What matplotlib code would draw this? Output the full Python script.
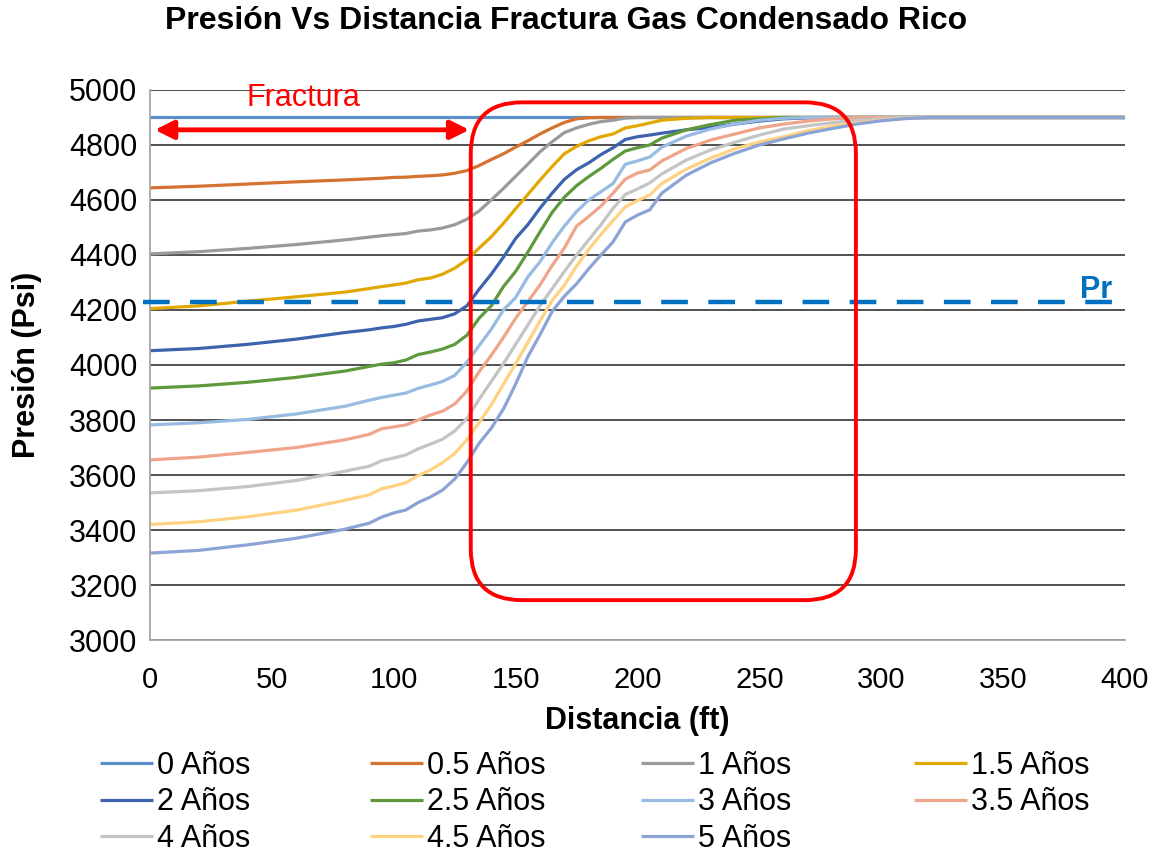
import numpy as np
import matplotlib.pyplot as plt
from matplotlib.patches import FancyBboxPatch

plt.rcParams['font.family'] = ['Liberation Sans', 'DejaVu Sans']

# distance (ft)
x = [0, 20, 40, 60, 80, 90, 95, 100, 105, 110, 115, 120, 125, 130, 135, 140, 145,
     150, 155, 160, 165, 170, 175, 180, 185, 190, 195, 200, 205, 210, 220, 230,
     240, 250, 260, 270, 280, 290, 300, 310, 320, 400]

# pressure (psi) per time
p_0 = [4900] * len(x)
p_05 = [4644, 4650, 4658, 4666, 4673, 4677, 4679, 4682, 4683, 4686, 4688, 4691, 4697, 4707,
        4725, 4747, 4768, 4792, 4815, 4840, 4862, 4882, 4895, 4899, 4900, 4900, 4900, 4900,
        4900, 4900, 4900, 4900, 4900, 4900, 4900, 4900, 4900, 4900, 4900, 4900, 4900, 4900]
p_1 = [4404, 4412, 4424, 4438, 4455, 4465, 4470, 4474, 4478, 4487, 4491, 4498, 4510, 4530,
       4560, 4600, 4642, 4686, 4730, 4775, 4812, 4845, 4862, 4875, 4885, 4890, 4898, 4900,
       4900, 4900, 4900, 4900, 4900, 4900, 4900, 4900, 4900, 4900, 4900, 4900, 4900, 4900]
p_15 = [4205, 4215, 4232, 4248, 4265, 4278, 4285, 4291, 4298, 4310, 4316, 4330, 4352, 4382,
        4425, 4466, 4515, 4568, 4620, 4672, 4722, 4768, 4795, 4815, 4830, 4840, 4862, 4870,
        4880, 4890, 4897, 4900, 4900, 4900, 4900, 4900, 4900, 4900, 4900, 4900, 4900, 4900]
p_2 = [4052, 4060, 4075, 4094, 4118, 4128, 4135, 4140, 4148, 4160, 4166, 4172, 4186, 4215,
       4275, 4330, 4392, 4460, 4510, 4570, 4625, 4675, 4710, 4735, 4765, 4790, 4820, 4830,
       4836, 4843, 4855, 4864, 4876, 4887, 4895, 4899, 4900, 4900, 4900, 4900, 4900, 4900]
p_25 = [3916, 3924, 3937, 3955, 3978, 3995, 4003, 4008, 4018, 4038, 4047, 4058, 4075, 4108,
        4170, 4215, 4285, 4340, 4410, 4484, 4555, 4610, 4652, 4685, 4715, 4748, 4778, 4790,
        4800, 4825, 4855, 4874, 4890, 4895, 4900, 4900, 4900, 4900, 4900, 4900, 4900, 4900]
p_3 = [3782, 3790, 3802, 3822, 3850, 3872, 3882, 3890, 3898, 3915, 3927, 3940, 3962, 4010,
       4070, 4130, 4200, 4245, 4320, 4375, 4445, 4505, 4558, 4600, 4630, 4660, 4730, 4742,
       4756, 4792, 4832, 4858, 4876, 4890, 4897, 4900, 4900, 4900, 4900, 4900, 4900, 4900]
p_35 = [3655, 3665, 3682, 3700, 3728, 3748, 3768, 3775, 3782, 3800, 3818, 3832, 3858, 3905,
        3975, 4035, 4100, 4170, 4230, 4291, 4362, 4425, 4505, 4540, 4578, 4625, 4676, 4698,
        4709, 4742, 4787, 4818, 4840, 4862, 4876, 4887, 4895, 4899, 4900, 4900, 4900, 4900]
p_4 = [3535, 3543, 3558, 3580, 3614, 3632, 3652, 3662, 3673, 3695, 3712, 3730, 3760, 3805,
       3875, 3940, 4005, 4075, 4145, 4215, 4278, 4340, 4400, 4455, 4510, 4570, 4620, 4640,
       4662, 4695, 4745, 4782, 4810, 4836, 4858, 4870, 4881, 4890, 4896, 4900, 4900, 4900]
p_45 = [3420, 3430, 3448, 3472, 3508, 3528, 3550, 3560, 3572, 3598, 3618, 3645, 3678, 3728,
        3790, 3855, 3930, 4005, 4082, 4160, 4235, 4290, 4360, 4420, 4475, 4525, 4575, 4598,
        4618, 4660, 4712, 4752, 4786, 4811, 4830, 4852, 4868, 4880, 4890, 4897, 4900, 4900]
p_5 = [3316, 3326, 3346, 3370, 3403, 3425, 3447, 3462, 3473, 3500, 3520, 3545, 3585, 3645,
       3715, 3770, 3840, 3930, 4030, 4110, 4195, 4250, 4295, 4350, 4400, 4448, 4520, 4545,
       4564, 4625, 4690, 4735, 4770, 4800, 4822, 4843, 4860, 4876, 4888, 4896, 4900, 4900]

series = [p_0, p_05, p_1, p_15, p_2, p_25, p_3, p_35, p_4, p_45, p_5]
labels = ['0 Años', '0.5 Años', '1 Años', '1.5 Años', '2 Años', '2.5 Años',
          '3 Años', '3.5 Años', '4 Años', '4.5 Años', '5 Años']
colors = ['#5B8FC8', '#D5722F', '#9A9A9A', '#E0A800', '#3D63AE', '#5E9A3C',
          '#97BBE2', '#EEA58A', '#C4C4C4', '#FFD282', '#8CA3D6']

pr = 4230
fractura = [2, 131]
box = [131.6, 3145, 289.6, 4955]  # x0, y0, x1, y1

fig = plt.figure(figsize=(11.68, 8.52), dpi=100)
ax = fig.add_axes([0.1284, 0.2488, 0.9632 - 0.1284, 0.8944 - 0.2488])

handles = []
for y, lab, c in zip(series, labels, colors):
    h, = ax.plot(x, y, color=c, lw=2.3, label=lab, solid_capstyle='butt')
    handles.append(h)

ax.set_xlim(0, 400)
ax.set_ylim(3000, 5000)
ax.set_xticks(np.arange(0, 401, 50))
ax.set_yticks(np.arange(3000, 5001, 200))
ax.yaxis.grid(True, color='#222222', lw=1.1)
ax.set_axisbelow(True)
for s in ['top', 'right']:
    ax.spines[s].set_visible(False)
for s in ['left', 'bottom']:
    ax.spines[s].set_color('#A6A6A6')
    ax.spines[s].set_linewidth(1.3)
ax.tick_params(axis='x', length=0, labelsize=21, pad=19)
ax.tick_params(axis='y', length=0, labelsize=22, pad=9)

ax.set_xlabel('Distancia (ft)', fontsize=22, fontweight='bold', labelpad=8)
ax.set_ylabel('Presión (Psi)', fontsize=22, fontweight='bold')
ax.yaxis.set_label_coords(-108 / 975, 0.5)
fig.text(0.485, 0.975, 'Presión Vs Distancia Fractura Gas Condensado Rico',
         ha='center', va='center', fontsize=23, fontweight='bold')

# Pr dashed line
ax.plot([-3, 400], [pr, pr], color='#0070C0', lw=3.2, dashes=(6, 4.6),
        clip_on=False, zorder=5)
ax.text(388, 4272, 'Pr', color='#0070C0', fontsize=22, fontweight='bold',
        ha='center', va='center', zorder=6)

# fracture arrow
ax.annotate('', xy=(fractura[0], 4855), xytext=(fractura[1], 4855),
            arrowprops=dict(arrowstyle='<|-|>', color='red', lw=3.5,
                            mutation_scale=28, shrinkA=0, shrinkB=0), zorder=6)
ax.text(63, 4972, 'Fractura', color='red', fontsize=22, ha='center', va='center')

# rounded highlight box
aspect = (975 / 400) / (550 / 2000)
rb = FancyBboxPatch((box[0], box[1]), box[2] - box[0], box[3] - box[1],
                    boxstyle='round,pad=0,rounding_size=21', mutation_aspect=aspect,
                    fill=False, ec='red', lw=2.8, zorder=7, clip_on=False)
ax.add_patch(rb)

# legend: one legend per column, entries in row order
col_x = [100 / 1168, 370 / 1168, 641 / 1168, 914 / 1168]
for j in range(4):
    hh = handles[j::4]
    fig.legend(hh, [h.get_label() for h in hh], loc='upper left',
               bbox_to_anchor=(col_x[j], 0.119), frameon=False,
               fontsize=22, handlelength=1.75, handletextpad=0.12,
               labelspacing=0.22, borderpad=0, borderaxespad=0)

fig.savefig('out.png', dpi=100)
